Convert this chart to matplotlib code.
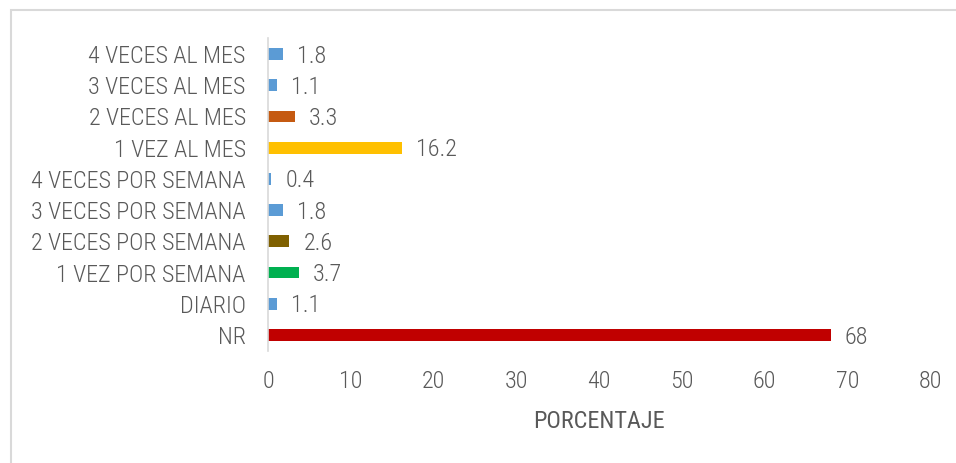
import matplotlib
matplotlib.use("Agg")
import matplotlib.pyplot as plt
from matplotlib.patches import Rectangle

# Data (bottom to top)
categories = ["NR", "DIARIO", "1 VEZ POR SEMANA", "2 VECES POR SEMANA",
              "3 VECES POR SEMANA", "4 VECES POR SEMANA", "1 VEZ AL MES",
              "2 VECES AL MES", "3 VECES AL MES", "4 VECES AL MES"]
values = [68, 1.1, 3.7, 2.6, 1.8, 0.4, 16.2, 3.3, 1.1, 1.8]
labels = ["68", "1.1", "3.7", "2.6", "1.8", "0.4", "16.2", "3.3", "1.1", "1.8"]
colors = ["#C00000", "#5B9BD5", "#00B050", "#7F6000", "#5B9BD5",
          "#5B9BD5", "#FFC000", "#C55A11", "#5B9BD5", "#5B9BD5"]
xticks = [0, 10, 20, 30, 40, 50, 60, 70, 80]

txt = "#595959"
plt.rcParams['font.family'] = ['Roboto Condensed', 'DejaVu Sans']
plt.rcParams['font.stretch'] = 'condensed'
plt.rcParams['font.weight'] = 300
fs = 17.4

fig = plt.figure(figsize=(9.56, 4.63), dpi=100)
ax = fig.add_axes([0.2803, 0.2428, 0.6925, 0.6742])

y = range(len(categories))
ax.barh(y, values, height=0.38, color=colors)
for yi, v, lab in zip(y, values, labels):
    ax.annotate(lab, (v, yi), xytext=(10, -1.5), textcoords="offset points",
                va="center", ha="left", fontsize=fs, color=txt)

ax.set_xlim(0, 80)
ax.set_ylim(-0.5, len(categories) - 0.5)
ax.set_yticks(list(y))
ax.set_yticklabels(categories, fontsize=fs, color=txt)
ax.set_xticks(xticks)
ax.set_xticklabels([str(t) for t in xticks], fontsize=fs, color=txt)
ax.tick_params(axis='both', length=0)
ax.tick_params(axis='y', pad=16)
ax.tick_params(axis='x', pad=14)
ax.set_xlabel("PORCENTAJE", fontsize=fs, color=txt, labelpad=12)

for s in ["top", "right", "bottom"]:
    ax.spines[s].set_visible(False)
ax.spines["left"].set_color("#D9D9D9")
ax.spines["left"].set_linewidth(1.2)

# outer chart border (left and top visible)
fig.patches.append(Rectangle((11 / 956, -0.1), 1.2, 1.1 - 10 / 463,
                             transform=fig.transFigure, fill=False,
                             edgecolor="#D9D9D9", linewidth=1.5))

fig.savefig("out.png", dpi=100)
